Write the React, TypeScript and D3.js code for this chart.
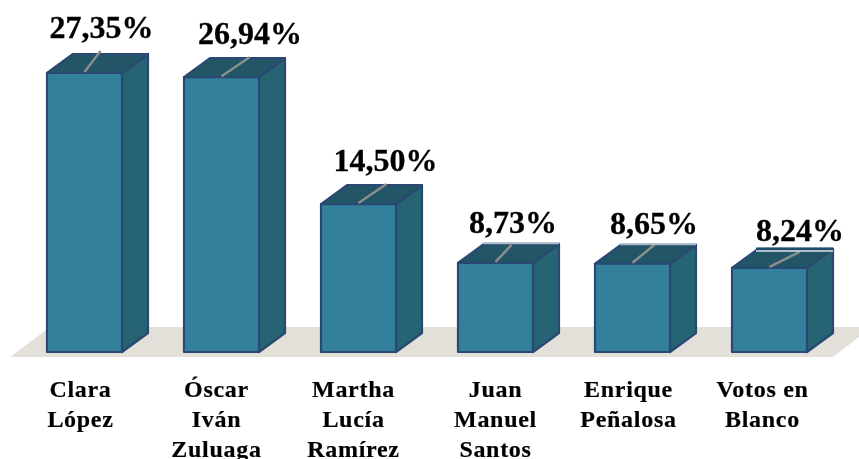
import React from "react";
import * as d3 from "d3";

const candidates = [
  ["Clara", "López"],
  ["Óscar", "Iván", "Zuluaga"],
  ["Martha", "Lucía", "Ramírez"],
  ["Juan", "Manuel", "Santos"],
  ["Enrique", "Peñalosa"],
  ["Votos en", "Blanco"],
];
const shares = [27.35, 26.94, 14.5, 8.73, 8.65, 8.24];
const shareLabels = ["27,35%", "26,94%", "14,50%", "8,73%", "8,65%", "8,24%"];

// layout nudges relative to each bar's front-top centre
const labelDx = [17, 28.5, 27, 17.5, 21.5, 30.5];
const labelDy = [-35, -33, -33, -30, -30, -27];
const leaderTop = [[16, -22], [28, -20], [28, -20], [16, -18], [22, -19], [30, -16]];
const nameDx = [-4, -5, -5, 0, -4, -7];

const W = 859, H = 459;
const DX = 26, DY = -19;
const barW = 75;
const baseY = 352;

const x = d3.scaleLinear().domain([0, 5]).range([47, 732]);
const y = d3.scaleLinear().domain([0, 27.35]).range([baseY, 73]);
const poly = d3.line<[number, number]>().curve(d3.curveLinearClosed);

const FRONT = "#31809c", SIDE = "#256373", TOP = "#225666", EDGE = "#2a4a72", FLOOR = "#e3e0da";

export default function App() {
  return (
    <svg width={W} height={H} viewBox={`0 0 ${W} ${H}`} style={{ position: "absolute", left: 0, top: 0, display: "block", background: "#fff" }}>
      <defs>
        <filter id="soft" x="-5%" y="-5%" width="110%" height="110%">
          <feGaussianBlur stdDeviation="0.55" />
        </filter>
      </defs>
      <g filter="url(#soft)">
        <path d={poly([[10, 357], [50, 327], [859, 327], [859, 337], [833, 357]]) ?? ""} fill={FLOOR} />
        {shares.map((v, i) => {
          const bx = x(i), ty = y(v);
          return (
            <g key={i} stroke={EDGE} strokeWidth={2.2} strokeLinejoin="round">
              <path d={poly([[bx + barW, ty], [bx + barW + DX, ty + DY], [bx + barW + DX, baseY + DY], [bx + barW, baseY]]) ?? ""} fill={SIDE} />
              <path d={poly([[bx, ty], [bx + DX, ty + DY], [bx + barW + DX, ty + DY], [bx + barW, ty]]) ?? ""} fill={TOP} />
              <rect x={bx} y={ty} width={barW} height={baseY - ty} fill={FRONT} />
              <line
                x1={bx + barW / 2} y1={ty - 1}
                x2={bx + barW / 2 + leaderTop[i][0]} y2={ty + leaderTop[i][1]}
                stroke="#8d8f8e" strokeWidth={2.4}
              />
              {i >= 3 && i < 5 && (
                <line x1={bx + 25} x2={bx + barW + DX} y1={ty + DY - 0.5} y2={ty + DY - 0.5} stroke="#a9bcc8" strokeWidth={1.8} />
              )}
              {i === 5 && <line x1={bx + 24} x2={bx + barW + DX} y1={ty + DY - 0.5} y2={ty + DY - 0.5} stroke="#1f4f6a" strokeWidth={2} />}
              {i === 5 && <line x1={bx + 24} x2={bx + barW + DX} y1={ty + DY + 2} y2={ty + DY + 2} stroke="#dfe6ea" strokeWidth={1.4} />}
            </g>
          );
        })}
        {shareLabels.map((t, i) => (
          <text key={t} x={x(i) + barW / 2 + labelDx[i]} y={y(shares[i]) + labelDy[i]} textAnchor="middle"
            fontFamily="'Liberation Serif', serif" fontWeight={700} fontSize={32} fill="#000" stroke="#000" strokeWidth={0.3}>{t}</text>
        ))}
        {candidates.map((lines, i) => (
          <text key={i} textAnchor="middle" fontFamily="'Liberation Serif', serif" fontWeight={700} fontSize={24} letterSpacing={0.7} fill="#000" stroke="#000" strokeWidth={0.2}>
            {lines.map((l, j) => (
              <tspan key={j} x={x(i) + barW / 2 + nameDx[i]} y={397 + j * 30}>{l}</tspan>
            ))}
          </text>
        ))}
      </g>
    </svg>
  );
}
